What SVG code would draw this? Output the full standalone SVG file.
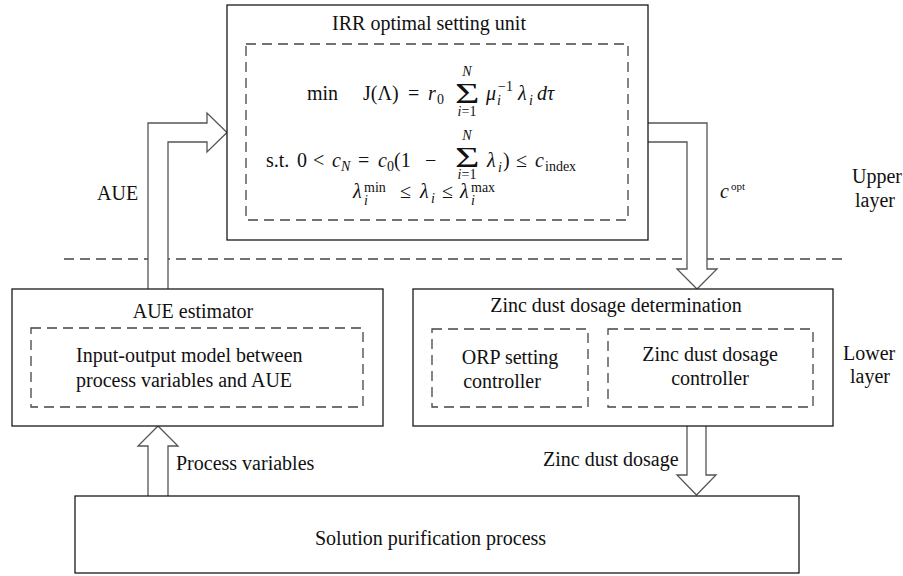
<svg xmlns="http://www.w3.org/2000/svg" width="903" height="576" viewBox="0 0 903 576">
<style>
.box{fill:#fff;stroke:#1a1a1a;stroke-width:1.3}
.dash{fill:none;stroke:#444;stroke-width:1.3;stroke-dasharray:10,6}
.arr{fill:#fff;stroke:#555;stroke-width:1.3;stroke-linejoin:miter}
text{font-family:"Liberation Serif","Times New Roman",serif;font-size:20px;fill:#111}
.it{font-style:italic}
.s{font-size:14px}
.ss{font-size:11px}
.sig{font-size:30px}
.mid{text-anchor:middle}
</style>
<rect width="903" height="576" fill="#fff"/>
<line x1="64" y1="259" x2="847" y2="259" class="dash"/>
<g id="connectors">
<path class="arr" d="M148,289 V123 H207 V113 L227,132.5 L207,152 V142 H168 V289"/>
<path class="arr" d="M648,123 H707 V269 H717 L697,289 L677,269 H687 V142 H648"/>
<path class="arr" d="M148,496 V446 H138 L158,426 L178,446 H168 V496"/>
<path class="arr" d="M687,426 V475 H677 L696.5,495 L716,475 H706 V426"/>
<text x="97" y="200">AUE</text>
<text x="720" y="198" class="it">c</text>
<text x="731" y="190" class="ss">opt</text>
<text x="176" y="470">Process variables</text>
<text x="543" y="466">Zinc dust dosage</text>
</g>
<g id="irr-unit">
<rect x="227" y="5" width="421" height="235" class="box"/>
<text x="429" y="30" class="mid">IRR optimal setting unit</text>
<rect x="246" y="44" width="382" height="176" class="dash"/>
<text x="307" y="100">min</text>
<text x="363" y="100">J(Λ)</text>
<text x="408" y="100">=</text>
<text x="428" y="100" class="it">r</text>
<text x="437" y="104" class="s">0</text>
<text class="sig" transform="translate(455,103) scale(1.4,1)">Σ</text>
<text x="467" y="76" class="s it mid">N</text>
<text x="467" y="116" class="s mid"><tspan class="it">i</tspan>=1</text>
<text x="486" y="100" class="it">μ</text>
<text x="497" y="105" class="s it">i</text>
<text x="498" y="91" class="s">−1</text>
<text x="518" y="100" class="it">λ</text>
<text x="529" y="105" class="s it">i</text>
<text x="537" y="100" class="it">dτ</text>
<text x="266" y="167">s.t.</text>
<text x="297" y="167">0</text>
<text x="313" y="167">&lt;</text>
<text x="332" y="167" class="it">c</text>
<text x="341" y="171" class="s it">N</text>
<text x="358" y="167">=</text>
<text x="378" y="167" class="it">c</text>
<text x="387" y="171" class="s">0</text>
<text x="394" y="167">(1</text>
<text x="425" y="167">−</text>
<text class="sig" transform="translate(455,167) scale(1.4,1)">Σ</text>
<text x="467" y="140" class="s it mid">N</text>
<text x="467" y="179" class="s mid"><tspan class="it">i</tspan>=1</text>
<text x="487" y="167" class="it">λ</text>
<text x="498" y="172" class="s it">i</text>
<text x="503" y="167">)</text>
<text x="516" y="167">≤</text>
<text x="535" y="167" class="it">c</text>
<text x="545" y="171" class="s">index</text>
<text x="353" y="198" class="it">λ</text>
<text x="364" y="205" class="s it">i</text>
<text x="364" y="192" class="s">min</text>
<text x="400" y="198">≤</text>
<text x="420" y="198" class="it">λ</text>
<text x="431" y="203" class="s it">i</text>
<text x="442" y="198">≤</text>
<text x="460" y="198" class="it">λ</text>
<text x="471" y="205" class="s it">i</text>
<text x="471" y="192" class="s">max</text>
</g>
<g id="aue-estimator">
<rect x="12" y="289" width="371" height="137" class="box"/>
<text x="193" y="318" class="mid">AUE estimator</text>
<rect x="31" y="328" width="332" height="79" class="dash"/>
<text x="76" y="362">Input-output model between</text>
<text x="76" y="387">process variables and AUE</text>
</g>
<g id="zinc-determination">
<rect x="413" y="289" width="420" height="137" class="box"/>
<text x="616" y="312" class="mid">Zinc dust dosage determination</text>
<rect x="432" y="329" width="156" height="78" class="dash"/>
<rect x="608" y="329" width="205" height="78" class="dash"/>
<text x="510" y="364" class="mid">ORP setting</text>
<text x="502" y="388" class="mid">controller</text>
<text x="710" y="361" class="mid">Zinc dust dosage</text>
<text x="710" y="385" class="mid">controller</text>
</g>
<g id="solution-process">
<rect x="75" y="496" width="724" height="77" class="box"/>
<text x="315" y="545">Solution purification process</text>
</g>
<g id="layer-labels">
<text x="852" y="183">Upper</text>
<text x="855" y="207">layer</text>
<text x="843" y="360">Lower</text>
<text x="850" y="383">layer</text>
</g>
</svg>
